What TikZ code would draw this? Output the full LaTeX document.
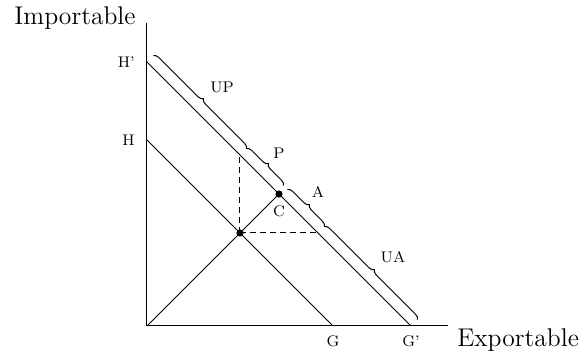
\documentclass[tikz,border=0pt]{standalone}
\usepackage{tikz}
\usetikzlibrary{decorations.pathreplacing, positioning, calc}

\begin{document}
\begin{tikzpicture}[x=0.5pt, y=0.5pt,
  axis/.style={line width=0.5pt},
  budget/.style={line width=0.5pt},
  brc/.style={decorate, decoration={brace, amplitude=2.5pt, raise=4.5pt}, line width=0.5pt},
  guide/.style={line width=0.5pt, dash pattern=on 3pt off 2pt},
  dot/.style={circle, fill, inner sep=0pt, minimum size=3.6pt},
  lbl/.style={font=\fontsize{7.7}{9}\selectfont, inner sep=1pt},
  axlbl/.style={font=\fontsize{12.8}{15}\selectfont, inner sep=0pt}
]
\useasboundingbox (-147,-32) rectangle (432,326);
% points
\coordinate (O) at (0,0);
\coordinate (Ytop) at (0,303);
\coordinate (Xend) at (301,0);
\coordinate (Hp) at (0,264);
\coordinate (Gp) at (264,0);
\coordinate (H) at (0,186);
\coordinate (G) at (186,0);
\coordinate (Pv) at (93,171);
\coordinate (Ph) at (171,93);
\node[dot] (E) at (93,93) {};
\node[dot] (C) at (132,132) {};
% axes
\draw[axis] (Ytop) -- (O) -- (Xend);
\node[axlbl, anchor=east] (ylab) at (-11,308) {Importable};
\node[axlbl, anchor=west] (xlab) at (310,-14) {Exportable};
% budget lines
\draw[budget] (Hp) -- (Gp);
\draw[budget] (H) -- (G);
\draw[budget] (O) -- (E.center) -- (C.center);
\draw[guide] (E.center) -- (Pv);
\draw[guide] (E.center) -- (Ph);
% braces
\draw[brc] (Hp) -- (Pv);
\draw[brc] (Pv) -- ($(C.center)+(-2,2)$);
\draw[brc] ($(C.center)+(2,-2)$) -- (Ph);
\draw[brc] (Ph) -- (Gp);
% labels
\node[lbl, left=5pt of Hp] (lHp) {H'};
\node[lbl, left=5pt of H] (lH) {H};
\node[lbl, below=3.5pt of G] (lG) {G};
\node[lbl, below=3.5pt of Gp] (lGp) {G'};
\node[lbl, below=2.5pt of C] (lC) {C};
\node[lbl] (lUP) at (75,239) {UP};
\node[lbl] (lP) at (132,173) {P};
\node[lbl] (lA) at (171,134) {A};
\node[lbl] (lUA) at (246,69) {UA};
\end{tikzpicture}
\end{document}
